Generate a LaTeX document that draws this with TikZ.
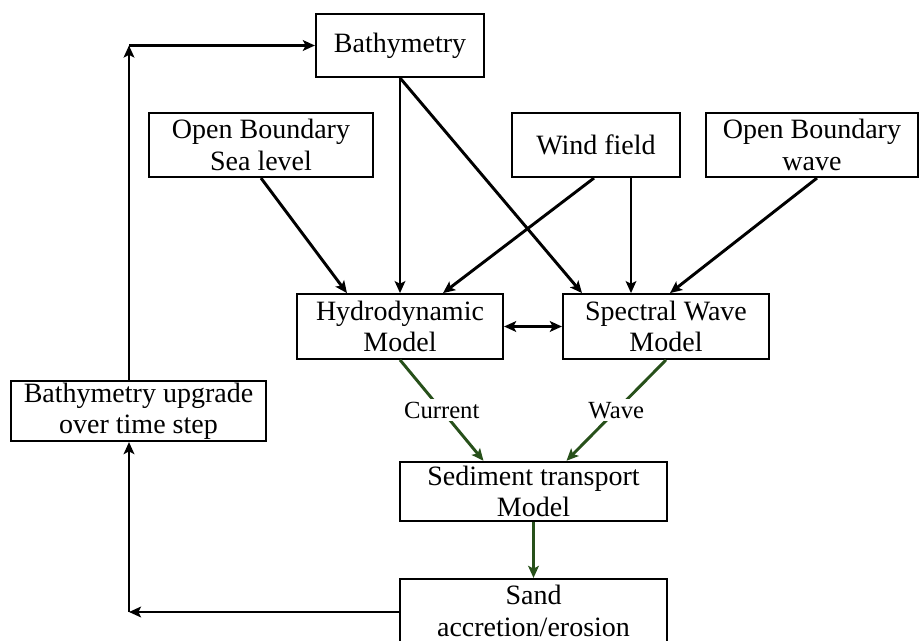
\documentclass[tikz,border=0pt]{standalone}
\usepackage{fontspec}
\setmainfont{Liberation Serif}
\usetikzlibrary{arrows.meta,calc}

\definecolor{LeafGreen}{HTML}{27501A}

\tikzset{
    box/.style={draw, line width=1.6pt, align=center, inner sep=0pt,
        font=\fontsize{21}{23.5}\selectfont},
    tip/.tip={Stealth[length=9pt,width=8pt,inset=2pt]},
    flow/.style={line width=2.2pt, -tip},
    greenflow/.style={flow, LeafGreen},
    lbl/.style={fill=white, text=black, inner sep=2pt, font=\fontsize{18.5}{20}\selectfont}
}

\begin{document}
\begin{tikzpicture}[x=0.75pt, y=-0.75pt]
        \useasboundingbox (0,0) rectangle (921,641);
        \clip (0,0) rectangle (921,641);

        % inputs
        \node[box, minimum width=126pt, minimum height=47pt] (bathy) at (400,45.5) {Bathymetry};
        \node[box, minimum width=168pt, minimum height=48pt] (obsea) at (261,145) {Open Boundary\\Sea level};
        \node[box, minimum width=126pt, minimum height=48pt] (wind) at (596,145) {Wind field};
        \node[box, minimum width=159pt, minimum height=48pt] (obwave) at (812,145) {Open Boundary\\wave};

        % models
        \node[box, minimum width=154.5pt, minimum height=48.5pt] (hydro) at (400,326.5) {Hydrodynamic\\Model};
        \node[box, minimum width=154.5pt, minimum height=48.5pt] (spec) at (666,326.5) {Spectral Wave\\Model};
        \node[box, minimum width=200pt, minimum height=44.5pt] (sed) at (533.5,491.5) {Sediment transport\\Model};
        \node[box, minimum width=200pt, minimum height=48pt] (sand) at (533.5,611) {Sand\\accretion/erosion};
        \node[box, minimum width=191pt, minimum height=45pt] (upgrade) at (138.5,411) {Bathymetry upgrade\\over time step};

        \coordinate (lowcorner) at (129,612);
        \coordinate (topcorner) at (129,45.5);

        \draw[flow] (bathy.south) -- (hydro.north);
        \draw[flow] (bathy.south) -- ($(spec.north)+(-84,0)$);
        \draw[flow] (obsea.south) -- ($(hydro.north)+(-53,0)$);
        \draw[flow] ($(wind.south)+(-2,0)$) -- ($(hydro.north)+(43,0)$);
        \draw[flow] ($(wind.south)+(35,0)$) -- ($(spec.north)+(-35,0)$);
        \draw[flow] ($(obwave.south)+(5,0)$) -- ($(spec.north)+(4,0)$);
        \draw[flow, tip-tip] (hydro.east) -- (spec.west);

        \draw[greenflow] (hydro.south) -- node[lbl] {Current} ($(sed.north)+(-50,0)$);
        \draw[greenflow] (spec.south) -- node[lbl] {Wave} ($(sed.north)+(33,0)$);
        \draw[greenflow] (sed.south) -- (sand.north);

        % feedback loop
        \draw[flow] (sand.west |- lowcorner) -- (lowcorner);
        \draw[flow] (lowcorner) -- (upgrade.south -| lowcorner);
        \draw[flow] (upgrade.north -| topcorner) -- (topcorner);
        \draw[flow] (topcorner) -- (bathy.west);
    \end{tikzpicture}
\end{document}
